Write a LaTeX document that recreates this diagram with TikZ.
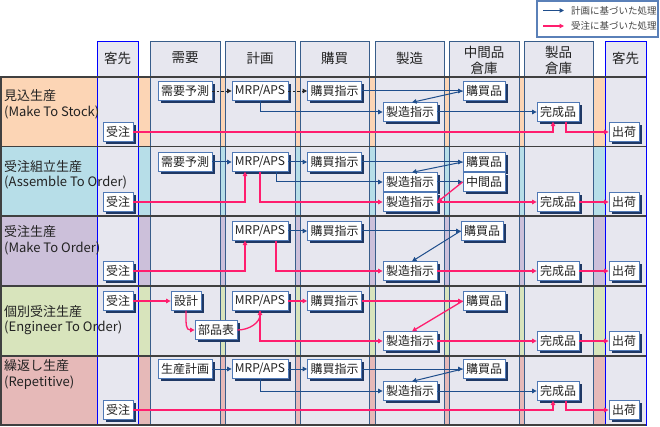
\documentclass[tikz,border=0pt]{standalone}
\usepackage{fontspec}
\setmainfont{Noto Sans CJK JP}
\usetikzlibrary{arrows.meta,shadows,calc}

\definecolor{rowA}{HTML}{FCD5B5}
\definecolor{rowB}{HTML}{B7DEE8}
\definecolor{rowC}{HTML}{CCC0DA}
\definecolor{rowD}{HTML}{D8E4BC}
\definecolor{rowE}{HTML}{E6B9B8}
\definecolor{colfill}{HTML}{E7E7EF}
\definecolor{colline}{HTML}{385D8A}
\definecolor{custline}{HTML}{0000FF}
\definecolor{rowline}{HTML}{404040}
\definecolor{plan}{HTML}{1F4E8C}
\definecolor{order}{HTML}{FF1E6E}
\definecolor{boxline}{HTML}{4F78B5}
\definecolor{shadowc}{HTML}{1F3864}
\definecolor{txt}{HTML}{222222}
\definecolor{legline}{HTML}{5A80B8}

\begin{document}
\begin{tikzpicture}[x=1pt,y=-1pt,
  box/.style={draw=boxline, line width=0.8pt, fill=white, inner xsep=3pt, inner ysep=0pt,
    minimum height=18.5pt, font=\fontsize{12}{14}\selectfont, text=txt,
    drop shadow={shadow xshift=2.6pt, shadow yshift=-2.6pt, fill=shadowc, opacity=1}},
  pl/.style={draw=plan, line width=1pt, -{Triangle[length=4.5pt,width=4.5pt]}},
  od/.style={draw=order, line width=1.3pt, -{Triangle[length=4.5pt,width=4.5pt]}},
  dsh/.style={draw=black!85, line width=0.9pt, dash pattern=on 2.5pt off 2pt, -{Triangle[length=4.5pt,width=4.5pt]}},
  colbox/.style={draw=colline, fill=colfill, line width=0.8pt},
  custbox/.style={draw=custline, fill=colfill, line width=0.9pt},
  hdr/.style={font=\fontsize{13.5}{16}\selectfont, text=txt, align=center},
  rlab/.style={font=\fontsize{13}{15.5}\selectfont, text=txt, align=left, anchor=west, inner sep=0pt},
  legtxt/.style={font=\fontsize{9.5}{10}\selectfont, text=txt!85, anchor=west, inner sep=0pt}
]
\useasboundingbox (0,0) rectangle (660,427);
\fill[white] (0,0) rectangle (660,427);

% row bands
\fill[rowA] (0,77) rectangle (646,146.5);
\fill[rowB] (0,146.5) rectangle (646,216);
\fill[rowC] (0,216) rectangle (646,286);
\fill[rowD] (0,286) rectangle (646,356);
\fill[rowE] (0,356) rectangle (646,425);

% columns
\foreach \l/\r in {150/220, 225/295, 300/369, 375/444, 449/519, 524/593}
  \draw[colbox] (\l,41) rectangle (\r,425);
\draw[custbox] (97,41) rectangle (138,425);
\draw[custbox] (605,41) rectangle (646,425);

% row lines
\foreach \yy in {77,146.5,216,286,356,425}
  \draw[rowline, line width=1.5pt] (0,\yy) -- (646,\yy);
\draw[rowline, line width=1.5pt] (0.75,77) -- (0.75,425);

% headers
\node[hdr] (hc1) at (117.5,58) {客先};
\node[hdr] (hd) at (185,58) {需要};
\node[hdr] (hp) at (260,58) {計画};
\node[hdr] (hb) at (334.5,58) {購買};
\node[hdr] (hm) at (409.5,58) {製造};
\node[hdr] (hw) at (484,60) {中間品\\倉庫};
\node[hdr] (hf) at (558.5,60) {製品\\倉庫};
\node[hdr] (hc2) at (625.5,58) {客先};

% row labels
\node[rlab] (r1) at (4,104.5) {見込生産\\(Make To Stock)};
\node[rlab] (r2) at (4,175) {受注組立生産\\(Assemble To Order)};
\node[rlab] (r3) at (4,240.5) {受注生産\\(Make To Order)};
\node[rlab] (r4) at (4,320) {個別受注生産\\(Engineer To Order)};
\node[rlab] (r5) at (4,374.5) {繰返し生産\\(Repetitive)};

% legend
\draw[legline, line width=1.2pt] (537,1) rectangle (658,37);
\coordinate (la1) at (543,10.5); \coordinate (la2) at (564,10.5);
\coordinate (lb1) at (543,26); \coordinate (lb2) at (564,26);
\draw[pl] (la1) -- (la2);
\draw[od] (lb1) -- (lb2);
\node[legtxt] (lt1) at (571,10.5) {計画に基づいた処理};
\node[legtxt] (lt2) at (571,26) {受注に基づいた処理};

% ---- Row 1 ----
\node[box] (d1) at (185,91) {需要予測};
\node[box] (m1) at (260,91) {MRP/APS};
\node[box] (p1) at (334.5,91) {購買指示};
\node[box] (b1) at (484,91) {購買品};
\node[box] (s1) at (410,112) {製造指示};
\node[box] (f1) at (558,112) {完成品};
\node[box] (o1) at (118,132) {受注};
\node[box] (h1) at (624,132) {出荷};
\draw[dsh] (d1) -- (m1);
\draw[dsh] (m1) -- (p1);
\draw[pl] (p1) -- (b1);
\draw[pl] (b1.west) -- ($(s1.north)+(2,0)$);
\draw[pl] (m1.south) |- (s1.west);
\draw[pl] (s1) -- (f1);
\draw[od] (o1.east) -| ($(f1.south)+(-5,0)$);
\draw[od] ($(f1.south)+(8,0)$) |- (h1.west);

% ---- Row 2 ----
\node[box] (d2) at (185,162) {需要予測};
\node[box] (m2) at (260,162) {MRP/APS};
\node[box] (p2) at (334.5,162) {購買指示};
\node[box] (b2) at (484,162) {購買品};
\node[box] (c2) at (484,182) {中間品};
\node[box] (s2a) at (410,182) {製造指示};
\node[box] (s2b) at (410,202) {製造指示};
\node[box] (f2) at (558,202) {完成品};
\node[box] (o2) at (118,202) {受注};
\node[box] (h2) at (624,202) {出荷};
\draw[pl] (d2) -- (m2);
\draw[pl] (m2) -- (p2);
\draw[pl] (p2) -- (b2);
\draw[pl] (b2.west) -- ($(s2a.north)+(2,0)$);
\draw[pl] ($(m2.south)+(16,0)$) |- (s2a.west);
\draw[pl] (s2a) -- (c2);
\draw[od] (c2.west) -- (s2b.east);
\draw[od] (o2.east) -| ($(m2.south)+(-15,0)$);
\draw[od] (m2.south) |- (s2b.west);
\draw[od] (s2b) -- (f2);
\draw[od] (f2) -- (h2);

% ---- Row 3 ----
\node[box] (m3) at (260,231) {MRP/APS};
\node[box] (p3) at (334.5,231) {購買指示};
\node[box] (b3) at (482,231) {購買品};
\node[box] (s3) at (410,271) {製造指示};
\node[box] (f3) at (558,271) {完成品};
\node[box] (o3) at (118,271) {受注};
\node[box] (h3) at (624,271) {出荷};
\draw[pl] (m3) -- (p3);
\draw[pl] (p3) -- (b3);
\draw[pl] (b3.west) -- ($(s3.north)+(2,0)$);
\draw[od] (o3.east) -| ($(m3.south)+(-15,0)$);
\draw[od] ($(m3.south)+(16,0)$) |- (s3.west);
\draw[od] (s3) -- (f3);
\draw[od] (f3) -- (h3);

% ---- Row 4 ----
\node[box] (o4) at (118,301) {受注};
\node[box] (e4) at (186,301) {設計};
\node[box] (k4) at (216,330) {部品表};
\node[box] (m4) at (260,301) {MRP/APS};
\node[box] (p4) at (334.5,301) {購買指示};
\node[box] (b4) at (484,301) {購買品};
\node[box] (s4) at (410,341) {製造指示};
\node[box] (f4) at (558,341) {完成品};
\node[box] (h4) at (624,341) {出荷};
\draw[od] (o4) -- (e4);
\draw[od] (e4.south) .. controls +(0,14) and +(-9,0) .. (k4.west);
\draw[od] (k4.east) .. controls +(12,0) and +(0,12) .. (m4.south);
\draw[od] (m4) -- (p4);
\draw[od] (p4) -- (b4);
\draw[od] (b4.west) -- ($(s4.north)+(2,0)$);
\draw[od] (m4.south) |- (s4.west);
\draw[od] (s4) -- (f4);
\draw[od] (f4) -- (h4);

% ---- Row 5 ----
\node[box] (g5) at (185,369) {生産計画};
\node[box] (m5) at (260,369) {MRP/APS};
\node[box] (p5) at (334.5,369) {購買指示};
\node[box] (b5) at (484,369) {購買品};
\node[box] (s5) at (410,391) {製造指示};
\node[box] (f5) at (558,391) {完成品};
\node[box] (o5) at (118,410) {受注};
\node[box] (h5) at (624,410) {出荷};
\draw[pl] (g5) -- (m5);
\draw[pl] (m5) -- (p5);
\draw[pl] (p5) -- (b5);
\draw[pl] (b5.west) -- ($(s5.north)+(2,0)$);
\draw[pl] (m5.south) |- (s5.west);
\draw[pl] (s5) -- (f5);
\draw[od] (o5.east) -| ($(f5.south)+(-5,0)$);
\draw[od] ($(f5.south)+(8,0)$) |- (h5.west);
\end{tikzpicture}
\end{document}
